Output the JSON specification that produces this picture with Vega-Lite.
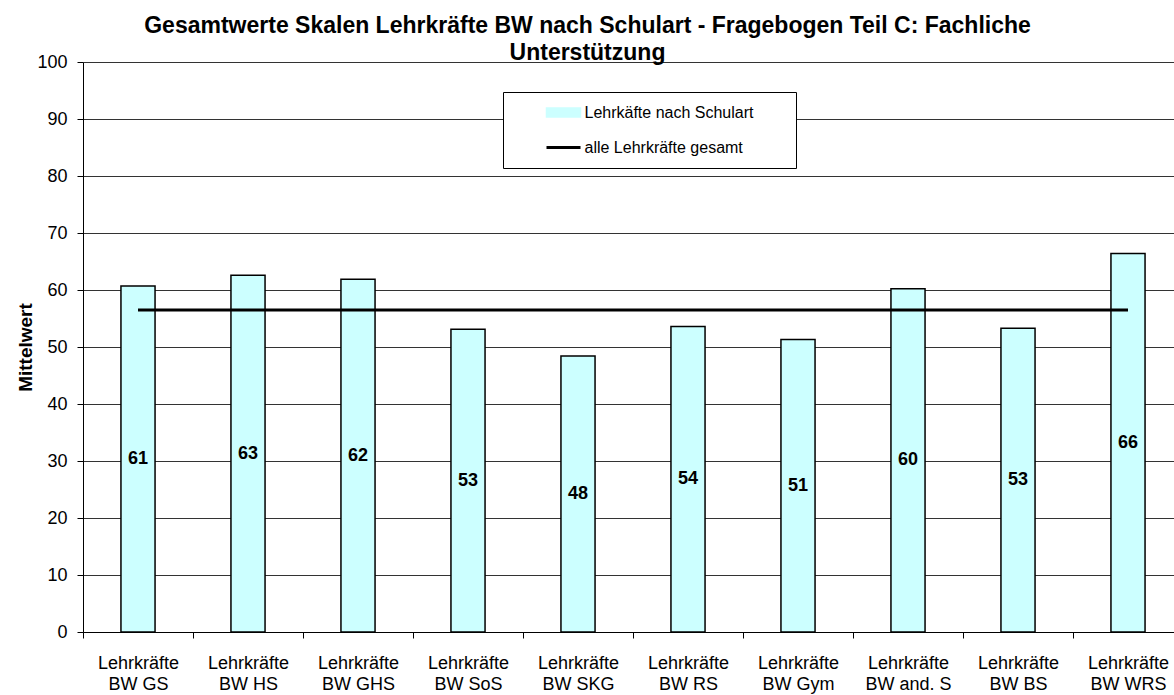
{
  "$schema": "https://vega.github.io/schema/vega-lite/v6.json",
  "width": 1091,
  "height": 570,
  "autosize": {"type": "none"},
  "padding": {"left": 83, "top": 62, "right": 0, "bottom": 63},
  "background": "white",
  "config": {"font": "Liberation Sans", "view": {"stroke": null}},
  "title": {
    "text": ["Gesamtwerte Skalen Lehrkräfte BW nach Schulart - Fragebogen Teil C: Fachliche", "Unterstützung"],
    "fontSize": 23,
    "fontWeight": "bold",
    "lineHeight": 27,
    "anchor": "middle",
    "dx": -41,
    "dy": 12,
    "offset": 0,
    "color": "black",
    "font": "Liberation Sans"
  },
  "data": {
    "values": [
      {"schulart": "BW GS", "mittelwert": 60.7, "gesamt": 56.5},
      {"schulart": "BW HS", "mittelwert": 62.6, "gesamt": 56.5},
      {"schulart": "BW GHS", "mittelwert": 61.9, "gesamt": 56.5},
      {"schulart": "BW SoS", "mittelwert": 53.1, "gesamt": 56.5},
      {"schulart": "BW SKG", "mittelwert": 48.4, "gesamt": 56.5},
      {"schulart": "BW RS", "mittelwert": 53.6, "gesamt": 56.5},
      {"schulart": "BW Gym", "mittelwert": 51.3, "gesamt": 56.5},
      {"schulart": "BW and. S", "mittelwert": 60.2, "gesamt": 56.5},
      {"schulart": "BW BS", "mittelwert": 53.3, "gesamt": 56.5},
      {"schulart": "BW WRS", "mittelwert": 66.4, "gesamt": 56.5}
    ]
  },
  "layer": [
    {
      "mark": {"type": "bar", "stroke": "black", "strokeWidth": 1.5, "width": {"band": 0.31}},
      "encoding": {
        "x": {
          "field": "schulart",
          "type": "nominal",
          "sort": null,
          "scale": {"range": [0, 1100], "paddingInner": 0, "paddingOuter": 0},
          "axis": {
            "title": null,
            "labelExpr": "datum.label ? ['Lehrkräfte', datum.label] : ''",
            "labelFontSize": 18,
            "labelLineHeight": 21,
            "labelColor": "black",
            "labelAngle": 0,
            "labelPadding": 16,
            "tickBand": "extent",
            "tickSize": 6,
            "tickColor": "black",
            "domainColor": "black",
            "grid": false
          }
        },
        "y": {
          "field": "mittelwert",
          "type": "quantitative",
          "scale": {"domain": [0, 100]},
          "axis": {
            "values": [0, 10, 20, 30, 40, 50, 60, 70, 80, 90, 100],
            "title": "Mittelwert",
            "titleFontSize": 19,
            "titleFontWeight": "bold",
            "titleColor": "black",
            "titlePadding": 1,
            "labelFontSize": 18,
            "labelColor": "black",
            "labelPadding": 10,
            "tickSize": 6,
            "tickColor": "black",
            "domainColor": "black",
            "grid": true,
            "gridColor": "#333333",
            "gridWidth": 1
          }
        },
        "color": {
          "datum": "Lehrkäfte nach Schulart",
          "scale": {"domain": ["Lehrkäfte nach Schulart", "alle Lehrkräfte gesamt"], "range": ["#ccffff", "black"]},
          "legend": {
            "orient": "none",
            "legendX": 420,
            "legendY": 30,
            "title": "\u00a0",
            "titleOrient": "right",
            "titlePadding": 30,
            "titleFontSize": 15,
            "fillColor": "white",
            "strokeColor": "black",
            "padding": 12.5,
            "symbolSize": 1156,
            "symbolOffset": 40,
            "symbolStrokeColor": "black",
            "labelFontSize": 16,
            "labelColor": "black",
            "labelOffset": 13,
            "labelLimit": 400,
            "rowPadding": 19,
            "encode": {
              "symbols": {
                "update": {
                  "shape": {"signal": "datum.value === 'alle Lehrkräfte gesamt' ? 'stroke' : 'M-1,-0.27H1V0.27H-1Z'"},
                  "stroke": {"value": "black"},
                  "strokeOpacity": {"value": 1},
                  "strokeWidth": {"signal": "datum.value === 'alle Lehrkräfte gesamt' ? 3 : 1.5"},
                  "fill": {"signal": "datum.value === 'alle Lehrkräfte gesamt' ? 'black' : '#ccffff'"},
                  "opacity": {"value": 1}
                }
              }
            }
          }
        }
      }
    },
    {
      "mark": {"type": "line", "strokeWidth": 3},
      "encoding": {
        "x": {"field": "schulart", "type": "nominal", "sort": null},
        "y": {"field": "gesamt", "type": "quantitative", "scale": {"domain": [0, 100]}, "axis": null},
        "color": {
          "datum": "alle Lehrkräfte gesamt",
          "legend": {
            "orient": "none",
            "legendX": 420,
            "legendY": 30,
            "title": "\u00a0",
            "titleOrient": "right",
            "titlePadding": 30,
            "titleFontSize": 15,
            "fillColor": "white",
            "strokeColor": "black",
            "padding": 12.5,
            "symbolSize": 1156,
            "symbolOffset": 40,
            "symbolStrokeColor": "black",
            "labelFontSize": 16,
            "labelColor": "black",
            "labelOffset": 13,
            "labelLimit": 400,
            "rowPadding": 19,
            "encode": {
              "symbols": {
                "update": {
                  "shape": {"signal": "datum.value === 'alle Lehrkräfte gesamt' ? 'stroke' : 'M-1,-0.27H1V0.27H-1Z'"},
                  "stroke": {"value": "black"},
                  "strokeOpacity": {"value": 1},
                  "strokeWidth": {"signal": "datum.value === 'alle Lehrkräfte gesamt' ? 3 : 1.5"},
                  "fill": {"signal": "datum.value === 'alle Lehrkräfte gesamt' ? 'black' : '#ccffff'"},
                  "opacity": {"value": 1}
                }
              }
            }
          }
        }
      }
    },
    {
      "mark": {"type": "text", "fontSize": 18, "fontWeight": "bold", "baseline": "middle", "color": "black"},
      "encoding": {
        "x": {"field": "schulart", "type": "nominal", "sort": null},
        "y": {"field": "mittelwert", "type": "quantitative", "scale": {"domain": [0, 200]}, "axis": null},
        "text": {"field": "mittelwert", "type": "quantitative", "format": ".0f"}
      }
    }
  ],
  "resolve": {"scale": {"y": "independent"}}
}
